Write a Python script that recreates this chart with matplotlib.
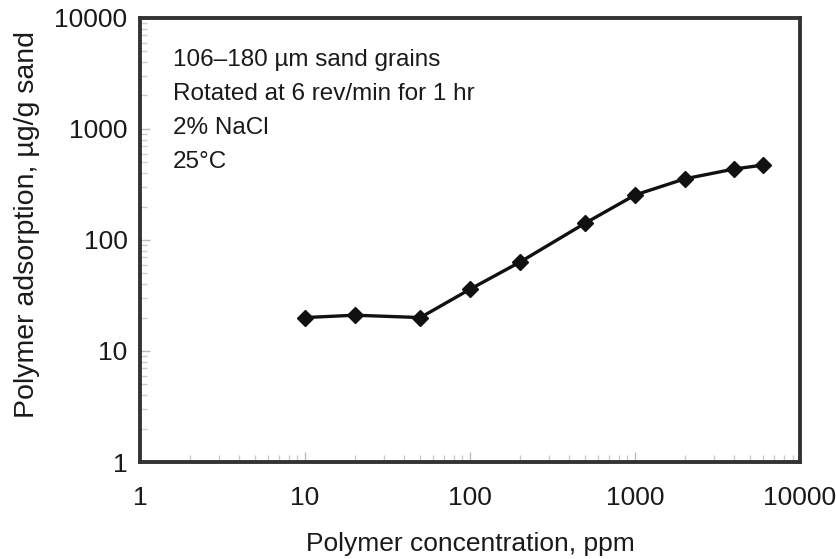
import matplotlib
matplotlib.use("Agg")
import matplotlib.pyplot as plt
from matplotlib.ticker import LogLocator, FixedLocator, FixedFormatter, NullFormatter

plt.rcParams['font.family'] = ['Liberation Sans', 'DejaVu Sans']

conc_ppm = [10, 20, 50, 100, 200, 500, 1000, 2000, 4000, 6000]
adsorption = [20, 21, 20, 36, 63, 142, 254, 355, 436, 473]

xticks = [1, 10, 100, 1000, 10000]
xtick_labels = ["1", "10", "100", "1000", "10000"]
yticks = [1, 10, 100, 1000, 10000]
ytick_labels = ["1", "10", "100", "1000", "10000"]

notes = ["106\u2013180 \u00b5m sand grains", "Rotated at 6 rev/min for 1 hr", "2% NaCl", "25\u00b0C"]

fig = plt.figure(figsize=(8.36, 5.59), dpi=100)
ax = fig.add_axes([0.1675, 0.1735, 0.957 - 0.1675, 0.968 - 0.1735])

ax.plot(conc_ppm, adsorption, color='#111111', lw=2.4, marker='D', ms=8.5,
        mfc='#111111', mec='#111111')

ax.set_xscale('log')
ax.set_yscale('log')
ax.set_xlim(1, 10000)
ax.set_ylim(1, 10000)

ax.xaxis.set_major_locator(FixedLocator(xticks))
ax.xaxis.set_major_formatter(FixedFormatter(xtick_labels))
ax.yaxis.set_major_locator(FixedLocator(yticks))
ax.yaxis.set_major_formatter(FixedFormatter(ytick_labels))
ax.xaxis.set_minor_locator(LogLocator(base=10, subs=range(2, 10), numticks=20))
ax.yaxis.set_minor_locator(LogLocator(base=10, subs=range(2, 10), numticks=20))
ax.xaxis.set_minor_formatter(NullFormatter())
ax.yaxis.set_minor_formatter(NullFormatter())

ax.tick_params(which='major', direction='in', length=7, width=1, color='#bbbbbb',
               labelsize=19, labelcolor='#1a1a1a')
ax.tick_params(axis='x', which='major', pad=17)
ax.tick_params(axis='y', which='major', pad=9)
ax.tick_params(which='minor', direction='in', length=5, width=1, color='#cccccc')

for s in ax.spines.values():
    s.set_linewidth(2.8)
    s.set_color('#333333')

ax.set_xlabel("Polymer concentration, ppm", fontsize=19, color='#1a1a1a')
ax.xaxis.set_label_coords(0.5, -0.158)
ax.set_ylabel("Polymer adsorption, \u00b5g/g sand", fontsize=20.5, color='#1a1a1a')
ax.yaxis.set_label_coords(-0.152, 0.535)

for i, t in enumerate(notes):
    ax.text(0.05, 0.905 - i * 0.0766, t, transform=ax.transAxes, fontsize=17.5,
            color='#1a1a1a', va='center', ha='left')

fig.savefig("out.png", dpi=100)
